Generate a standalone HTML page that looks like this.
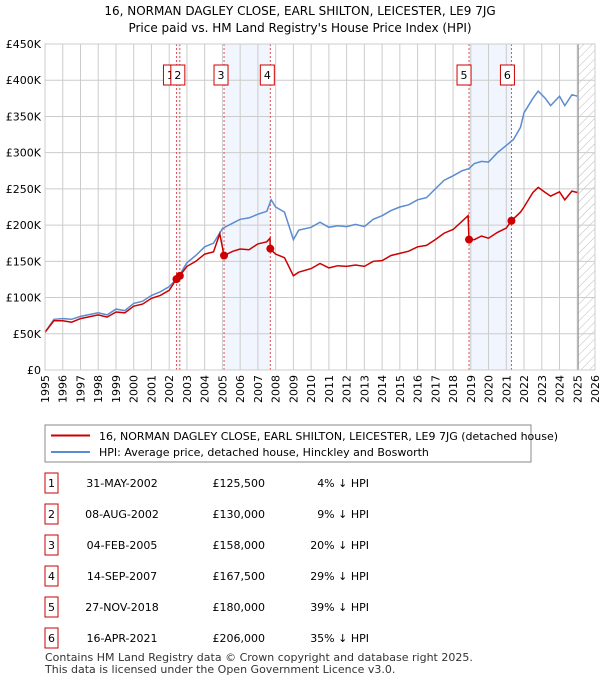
<!DOCTYPE html>
<html><head><meta charset="utf-8"><style>
body{margin:0;background:#fff;font-family:"DejaVu Sans","Liberation Sans",sans-serif;}
svg text{font-family:"DejaVu Sans","Liberation Sans",sans-serif;}
</style></head><body>
<svg id="chart" width="600" height="680" xmlns="http://www.w3.org/2000/svg">
<defs><pattern id="hatch" patternUnits="userSpaceOnUse" width="6" height="6" patternTransform="rotate(45)"><line x1="0" y1="0" x2="0" y2="6" stroke="#bbb" stroke-width="1"/></pattern></defs>
<text x="300" y="15" text-anchor="middle" font-size="12">16, NORMAN DAGLEY CLOSE, EARL SHILTON, LEICESTER, LE9 7JG</text>
<text x="300" y="32" text-anchor="middle" font-size="12">Price paid vs. HM Land Registry's House Price Index (HPI)</text>
<g id="plot"></g>
<rect x="45" y="425" width="486" height="37" fill="#fff" stroke="#888"/>
<line x1="51" y1="435.5" x2="90" y2="435.5" stroke="#cc0000" stroke-width="2"/>
<text x="99" y="440" font-size="11">16, NORMAN DAGLEY CLOSE, EARL SHILTON, LEICESTER, LE9 7JG (detached house)</text>
<line x1="51" y1="452" x2="90" y2="452" stroke="#5b8bd0" stroke-width="2"/>
<text x="99" y="456" font-size="11">HPI: Average price, detached house, Hinckley and Bosworth</text>
<g id="table"></g>
<text x="45" y="661" font-size="11" fill="#333">Contains HM Land Registry data © Crown copyright and database right 2025.</text>
<text x="45" y="673" font-size="11" fill="#333">This data is licensed under the Open Government Licence v3.0.</text>
</svg>
<script>
const hpiYears=[1995,1995.5,1996,1996.5,1997,1998,1998.5,1999,1999.5,2000,2000.5,2001,2001.5,2002,2002.5,2003,2003.5,2004,2004.5,2005,2005.2,2005.6,2006,2006.5,2007,2007.5,2007.75,2008,2008.5,2009,2009.3,2010,2010.5,2011,2011.5,2012,2012.5,2013,2013.5,2014,2014.5,2015,2015.5,2016,2016.5,2017,2017.5,2018,2018.5,2018.9,2019.2,2019.6,2020,2020.5,2021,2021.4,2021.8,2022,2022.5,2022.8,2023.2,2023.5,2024,2024.3,2024.7,2025];
const hpiValues=[52,70,71,70,74,79,76,84,82,92,95,103,108,115,128,148,158,170,175,195,198,203,208,210,215,219,235,225,218,180,193,197,204,197,199,198,201,198,208,213,220,225,228,235,238,250,262,268,275,278,285,288,287,300,310,318,335,355,375,385,375,365,378,365,380,378];
const redYears=[1995,1995.5,1996,1996.5,1997,1998,1998.5,1999,1999.5,2000,2000.5,2001,2001.5,2002,2002.4,2002.6,2003,2003.5,2004,2004.5,2004.85,2005.09,2005.6,2006,2006.5,2007,2007.5,2007.68,2007.7,2008,2008.5,2009,2009.3,2010,2010.5,2011,2011.5,2012,2012.5,2013,2013.5,2014,2014.5,2015,2015.5,2016,2016.5,2017,2017.5,2018,2018.85,2018.9,2019.2,2019.6,2020,2020.5,2021,2021.29,2021.8,2022,2022.5,2022.8,2023.2,2023.5,2024,2024.3,2024.7,2025];
const redValues=[52,68,68,66,71,76,73,80,79,88,91,99,103,110,125,130,143,150,160,163,188,158,164,167,166,174,177,182,167,160,155,130,135,140,147,141,144,143,145,143,150,151,158,161,164,170,172,180,189,194,213,180,180,185,182,190,196,206,218,225,245,252,245,240,246,235,247,245];
const saleIds=["1","2","3","4","5","6"];
const saleYears=[2002.41,2002.6,2005.09,2007.7,2018.9,2021.29];
const salePrices=[125.5,130,158,167.5,180,206];
const saleDates=["31-MAY-2002","08-AUG-2002","04-FEB-2005","14-SEP-2007","27-NOV-2018","16-APR-2021"];
const salePriceLabels=["£125,500","£130,000","£158,000","£167,500","£180,000","£206,000"];
const saleHpiLabels=["4% ↓ HPI","9% ↓ HPI","20% ↓ HPI","29% ↓ HPI","39% ↓ HPI","35% ↓ HPI"];
const yTicks=[0,50,100,150,200,250,300,350,400,450];
const yTickLabels=["£0","£50K","£100K","£150K","£200K","£250K","£300K","£350K","£400K","£450K"];
const bands=[[2002.41,2002.6],[2005.09,2007.7],[2018.9,2021.29]];
const labelOffsets=[-13,-9,-10,-10,-12,-11];

const X0=45,X1=595,Y0=370,Y1=44;
const xs=y=>X0+(y-1995)/(2026-1995)*(X1-X0);
const ys=v=>Y0-v/450*(Y0-Y1);
const NS="http://www.w3.org/2000/svg";
const plot=document.getElementById('plot');
function mk(tag,attrs,parent,txt){const e=document.createElementNS(NS,tag);for(const k in attrs)e.setAttribute(k,attrs[k]);if(txt!==undefined)e.textContent=txt;(parent||plot).appendChild(e);return e;}
let e;
e=mk('rect',{x:X0,y:Y1,width:X1-X0,height:Y0-Y1,fill:'#fff'});


bands.forEach(b=>{e=mk('rect',{x:xs(b[0]),y:Y1,width:xs(b[1])-xs(b[0]),height:Y0-Y1,fill:'#f1f5fd'});

});
e=mk('rect',{x:xs(2025.05),y:Y1,width:X1-xs(2025.05),height:Y0-Y1,fill:'url(#hatch)'});


for(let yr=1995;yr<=2026;yr++){
 e=mk('line',{x1:xs(yr),x2:xs(yr),y1:Y1,y2:Y0,stroke:'#ccc','stroke-width':1});
 
 
 const tx=xs(yr)+4,ty=Y0+5;
 e=mk('text',{x:tx,y:ty,'font-size':11,transform:`rotate(-90 ${tx} ${ty})`,'text-anchor':'end'},plot,String(yr));
 
 
}
yTicks.forEach((v,i)=>{
 e=mk('line',{x1:X0,x2:X1,y1:ys(v),y2:ys(v),stroke:'#ccc','stroke-width':1});
 
 
 e=mk('text',{x:X0-4,y:ys(v)+4,'font-size':11,'text-anchor':'end'},plot,yTickLabels[i]);
 
 
});
e=mk('line',{x1:xs(2025.05),x2:xs(2025.05),y1:Y1,y2:Y0,stroke:'#888','stroke-width':1});


saleYears.forEach((y,i)=>{
 e=mk('line',{x1:xs(y),x2:xs(y),y1:Y1,y2:Y0,stroke:'#e05050','stroke-width':1,'stroke-dasharray':'2,2'});
 
 
});
const pts=(xa,va)=>xa.map((x,i)=>xs(x).toFixed(1)+','+ys(va[i]).toFixed(1)).join(' ');
e=mk('polyline',{points:pts(hpiYears,hpiValues),fill:'none',stroke:'#5b8bd0','stroke-width':1.5});


e=mk('polyline',{points:pts(redYears,redValues),fill:'none',stroke:'#cc0000','stroke-width':1.5});


saleYears.forEach((y,i)=>{
 e=mk('circle',{cx:xs(y),cy:ys(salePrices[i]),r:4,fill:'#cc0000'});
 
 
 const bx=xs(y)+labelOffsets[i];
 e=mk('rect',{x:bx,y:65,width:14,height:20,fill:'#fff',stroke:'#cc0000'});
 
 
 e=mk('text',{x:bx+7,y:79,'font-size':11,'text-anchor':'middle'},plot,saleIds[i]);
 
 
});
e=mk('rect',{x:X0,y:Y1,width:X1-X0,height:Y0-Y1,fill:'none',stroke:'#ccc'});


const tbl=document.getElementById('table');
saleIds.forEach((id,i)=>{
 const cy=483+i*31;
 e=mk('rect',{x:45,y:cy-10,width:13,height:20,fill:'#fff',stroke:'#cc0000'},tbl);
 
 
 e=mk('text',{x:51.5,y:cy+4,'font-size':11,'text-anchor':'middle'},tbl,id);
 
 
 e=mk('text',{x:122,y:cy+4,'font-size':11,'text-anchor':'middle'},tbl,saleDates[i]);
 
 
 e=mk('text',{x:265,y:cy+4,'font-size':11,'text-anchor':'end'},tbl,salePriceLabels[i]);
 
 
 e=mk('text',{x:369,y:cy+4,'font-size':11,'text-anchor':'end'},tbl,saleHpiLabels[i]);
 
 
});
</script>
</body></html>
